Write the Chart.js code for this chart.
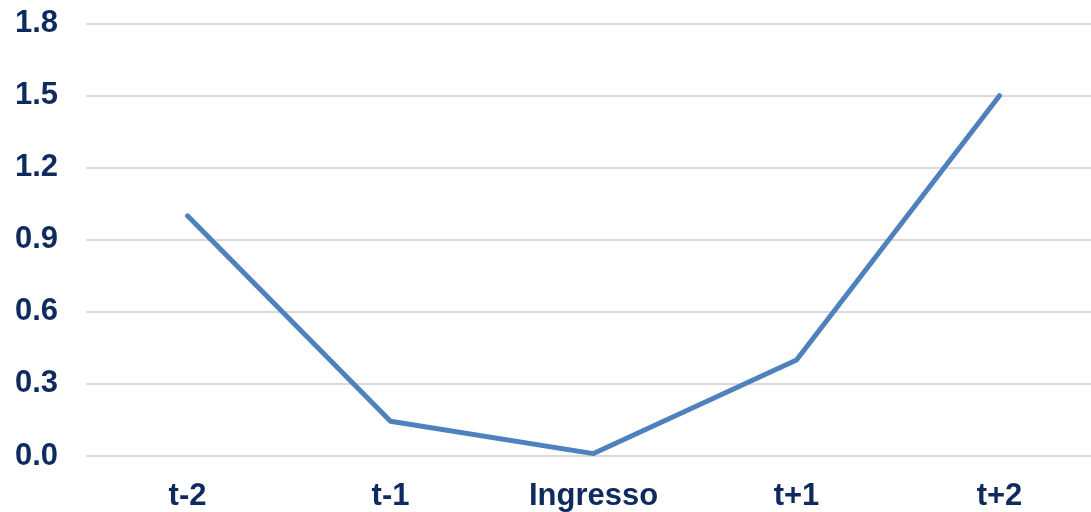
<!DOCTYPE html>
<html>
<head>
<meta charset="utf-8">
<script src="https://cdn.jsdelivr.net/npm/chart.js@4/dist/chart.umd.min.js"></script>
<style>
  html, body { margin: 0; padding: 0; background: #fff; overflow: hidden; height: 512px; }
  #wrap { position: relative; width: 1101px; height: 535px; margin-top: -23px; }
</style>
</head>
<body>
<div id="wrap"><canvas id="chart"></canvas></div>
<script>
// Period labels around the entry point and the measured values
const categories = ['t-2', 't-1', 'Ingresso', 't+1', 't+2'];
const values = [1.0, 0.145, 0.01, 0.40, 1.5];
const yTicks = [0.0, 0.3, 0.6, 0.9, 1.2, 1.5, 1.8];

const textColor = '#0e2a5f';
const font = { family: '"Liberation Sans", Arial, sans-serif', size: 31, weight: 'bold' };

new Chart(document.getElementById('chart'), {
  type: 'line',
  data: {
    labels: categories,
    datasets: [{
      data: values,
      borderColor: '#4f81bd',
      borderWidth: 5,
      pointRadius: 0,
      tension: 0,
      fill: false,
      borderCapStyle: 'round',
      borderJoinStyle: 'round'
    }]
  },
  options: {
    responsive: true,
    maintainAspectRatio: false,
    animation: false,
    layout: { padding: 0 },
    plugins: { legend: { display: false }, tooltip: { enabled: false } },
    scales: {
      x: {
        offset: true,
        grid: { display: false },
        border: { display: false },
        ticks: { color: textColor, font: font, padding: 14, maxRotation: 0 },
        afterFit: (axis) => { axis.height = 56; }
      },
      y: {
        min: yTicks[0],
        max: yTicks[yTicks.length - 1],
        afterBuildTicks: (axis) => { axis.ticks = yTicks.map(v => ({ value: v })); },
        grid: { color: '#d9d9d9', lineWidth: 2, drawTicks: false },
        border: { display: false },
        ticks: {
          color: textColor, font: font, padding: 28,
          callback: (v) => Number(v).toFixed(1)
        },
        afterFit: (axis) => { axis.width = 86; }
      }
    }
  }
});
</script>
</body>
</html>
